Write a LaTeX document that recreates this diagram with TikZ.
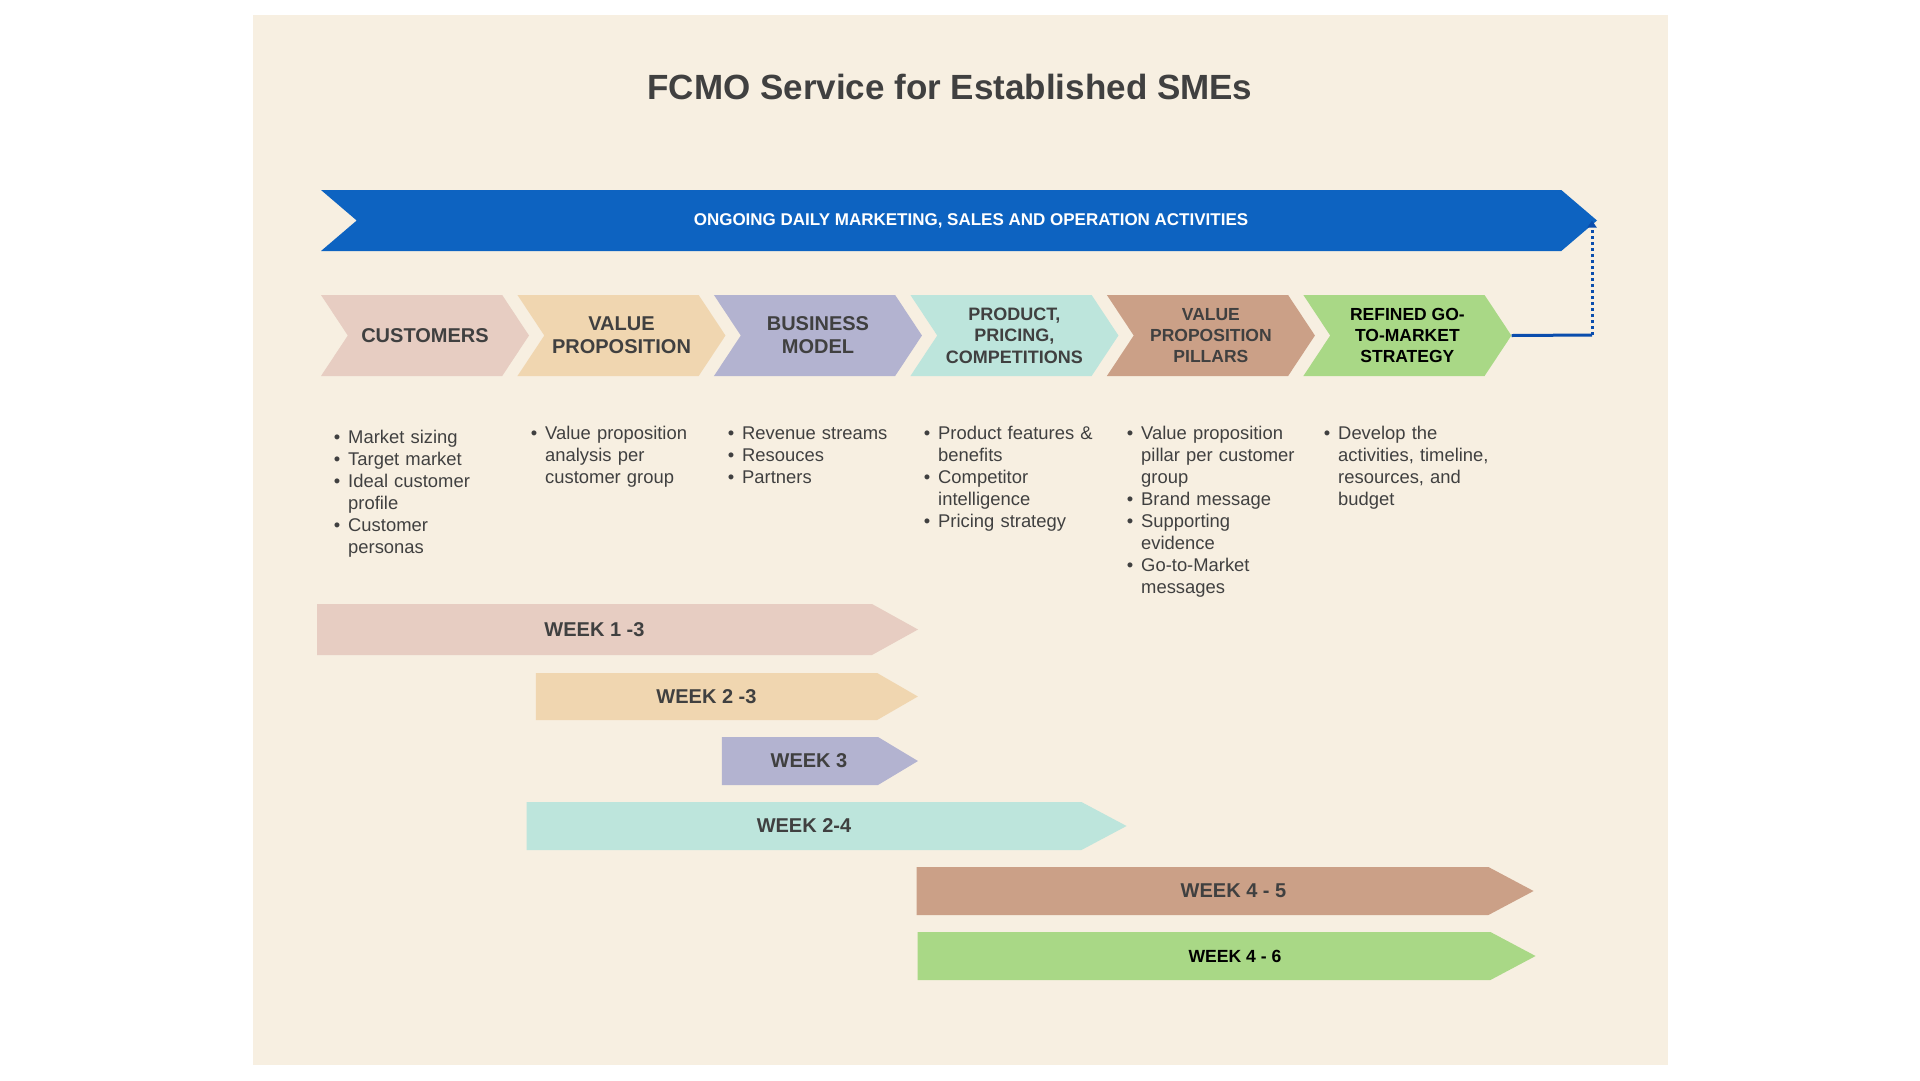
\documentclass[tikz,border=0pt]{standalone}
\usepackage{fontspec}
\setmainfont{Liberation Sans}
\usepackage{enumitem}
\usetikzlibrary{shapes.symbols, arrows.meta, positioning}

\definecolor{cream}{HTML}{F7EFE1}
\definecolor{ink}{HTML}{404040}
\definecolor{dailyblue}{HTML}{0D63C1}
\definecolor{linkblue}{HTML}{0A4DAD}
\definecolor{cpink}{HTML}{E7CDC2}
\definecolor{csand}{HTML}{F0D6B0}
\definecolor{clav}{HTML}{B3B3D0}
\definecolor{cmint}{HTML}{BDE5DC}
\definecolor{cbrown}{HTML}{CBA087}
\definecolor{cgreen}{HTML}{A9D886}

\newcommand{\bullets}[1]{\begin{itemize}[leftmargin=18pt,labelsep=8pt,itemsep=0pt,parsep=0pt,topsep=0pt,partopsep=0pt,label=\textbullet]#1\end{itemize}}

\begin{document}
\begin{tikzpicture}[x=1pt, y=-1pt,
        chev/.style={signal, signal to=east, signal from=west, signal pointer angle=113, minimum width=208pt, minimum height=81pt, inner sep=0pt, fill=#1, align=center, text=ink, font=\bfseries\fontsize{17.5}{21}\selectfont},
        big/.style={font=\bfseries\fontsize{20}{23}\selectfont},
        week/.style={signal, signal to=east, inner sep=0pt, fill=#1, text=ink, font=\bfseries\fontsize{20}{23}\selectfont},
        items/.style={anchor=north west, inner sep=0pt, text width=220pt, align=left, text=ink, font=\fontsize{18.4}{22}\selectfont},
        link/.style={draw=linkblue, line width=3pt}
        ]

        \path[use as bounding box, fill=white] (0,0) rectangle (1920,1080);
        \fill[cream] (253,15) rectangle (1668,1065);

        \node[text=ink, font=\bfseries\fontsize{35}{40}\selectfont] (title) at (950,87) {FCMO Service for Established SMEs};

        \node[signal, signal to=east, signal from=west, signal pointer angle=81, minimum width=1276pt, minimum height=61pt, inner sep=0pt, fill=dailyblue,
              label={[text=white, font=\bfseries\fontsize{17}{20}\selectfont, xshift=12pt]center:ONGOING DAILY MARKETING, SALES AND OPERATION ACTIVITIES}] (daily) at (959,220.5) {};

        \node[chev=cpink, big] (cust) at (425,335.5) {CUSTOMERS};
        \node[chev=csand, big, right=14.8pt of cust] (vp) {VALUE\\PROPOSITION};
        \node[chev=clav, big, right=14.8pt of vp] (bm) {BUSINESS\\MODEL};
        \node[chev=cmint, font=\bfseries\fontsize{18}{21.4}\selectfont, right=14.8pt of bm] (ppc) {PRODUCT,\\PRICING,\\COMPETITIONS};
        \node[chev=cbrown, right=14.8pt of ppc] (pil) {VALUE\\PROPOSITION\\PILLARS};
        \node[chev=cgreen, text=black, right=14.8pt of pil] (gtm) {REFINED GO-\\TO-MARKET\\STRATEGY};

        \coordinate (turn) at (1592,335);
        \draw[link] (gtm.east) -- (turn);
        \draw[link, dash pattern=on 3pt off 3pt, -{Triangle[length=7pt,width=9pt]}] (turn) -- (turn |- daily.east);

        \node[items] (custlist) at (330,421) {\bullets{\item Market sizing \item Target market \item Ideal customer\newline profile \item Customer\newline personas}};
        \node[items] (vplist) at (527,417) {\bullets{\item Value proposition\newline analysis per\newline customer group}};
        \node[items] (bmlist) at (724,417) {\bullets{\item Revenue streams \item Resouces \item Partners}};
        \node[items] (ppclist) at (920,417) {\bullets{\item Product features \&\newline benefits \item Competitor\newline intelligence \item Pricing strategy}};
        \node[items] (pillist) at (1123,417) {\bullets{\item Value proposition\newline pillar per customer\newline group \item Brand message \item Supporting\newline evidence \item Go-to-Market\newline messages}};
        \node[items] (gtmlist) at (1320,417) {\bullets{\item Develop the\newline activities, timeline,\newline resources, and\newline budget}};

        \node[week=cpink, signal pointer angle=58, minimum width=601pt, minimum height=51pt] (wk13) at (594.5,629.5) {WEEK 1 -3};
        \node[week=csand, signal pointer angle=60, minimum width=382pt, minimum height=47pt] (wk23) at (706.5,696.5) {WEEK 2 -3};
        \node[week=clav, signal pointer angle=62, minimum width=196pt, minimum height=48pt] (wk3) at (800,761) {\hspace*{18pt}WEEK 3};
        \node[week=cmint, signal pointer angle=56, minimum width=600pt, minimum height=48pt] (wk24) at (804,826) {WEEK 2-4};
        \node[week=cbrown, signal pointer angle=56, minimum width=617pt, minimum height=48pt] (wk45) at (1202.5,891) {\hspace*{62pt}WEEK 4 - 5};
        \node[week=cgreen, signal pointer angle=56, minimum width=618pt, minimum height=48pt, text=black, font=\bfseries\fontsize{17.6}{20}\selectfont] (wk46) at (1204,956) {\hspace*{62pt}WEEK 4 - 6};
    \end{tikzpicture}
\end{document}
